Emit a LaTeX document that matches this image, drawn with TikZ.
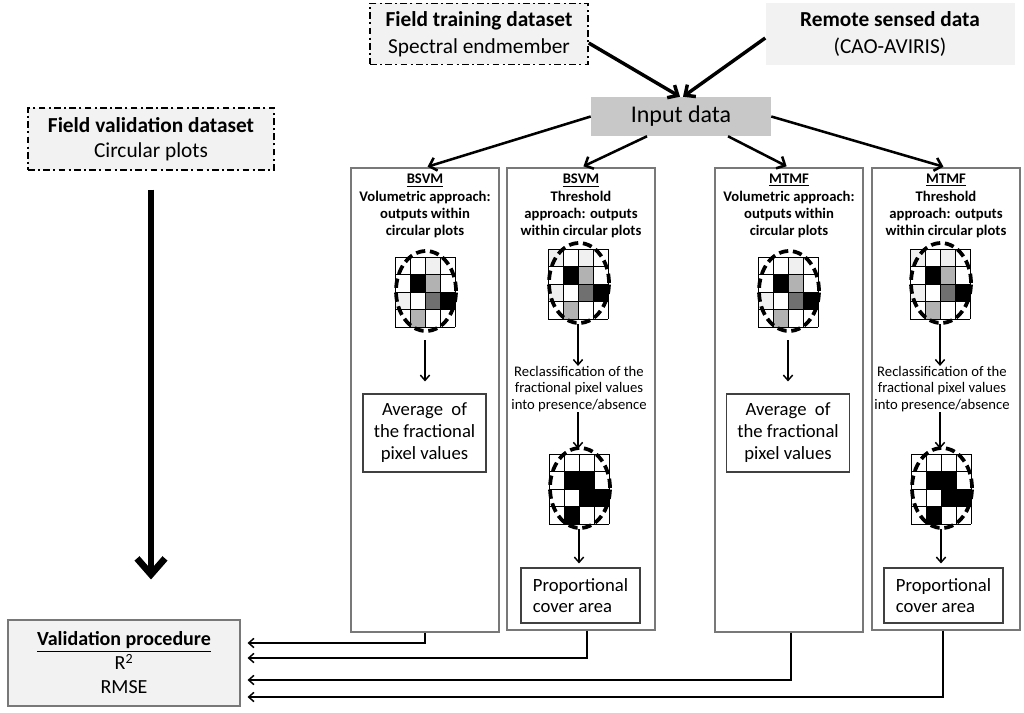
\documentclass[tikz,border=0pt]{standalone}
\usepackage{fontspec}
\setmainfont{Carlito}
\usepackage{tikz}
\usetikzlibrary{calc,arrows.meta}

\definecolor{boxfill}{RGB}{242,242,242}
\definecolor{inputfill}{RGB}{200,200,200}
\definecolor{framegray}{RGB}{120,120,120}
\definecolor{lightcell}{RGB}{240,240,240}
\definecolor{midcell}{RGB}{178,178,178}
\definecolor{darkcell}{RGB}{112,112,112}

\tikzset{
  dashdot box/.style={draw,line width=1.1pt,fill=boxfill,align=center,
    dash pattern=on 5pt off 2.5pt on 1.5pt off 2.5pt,font=\fontsize{16}{20}\selectfont},
  column/.style={draw=framegray,line width=0.8pt,minimum width=111pt,inner sep=0pt},
  resultbox/.style={draw=black!75,line width=0.8pt,inner sep=0pt,font=\fontsize{14}{16.5}\selectfont},
  header/.style={align=center,font=\bfseries\fontsize{11}{13}\selectfont,inner sep=0pt,anchor=north},
  reclass/.style={align=center,font=\fontsize{11}{12.4}\selectfont,inner sep=0pt},
  gridcell/.style={line width=0.6pt},
  plotcircle/.style={line width=2.8pt,dash pattern=on 7pt off 3.5pt},
  fat/.style={line width=2.6pt,-{Straight Barb[length=6pt,width=11pt]}},
  mid/.style={line width=1.9pt,-{Straight Barb[length=5pt,width=10pt]}},
  thin/.style={line width=1.1pt,-{Straight Barb[length=4pt,width=7pt]}},
  bigarrow/.style={line width=5pt,-{Straight Barb[length=12pt,width=21pt]}},
}

% 4x4 pixel grid inside a dashed plot: #1 name, #2 centre, #3 list of cell colours row by row
\newcommand\pixgrid[3]{%
  \node[minimum width=45pt,minimum height=60pt,inner sep=0pt] (#1) at #2 {};
  \foreach \cellcol [count=\i from 0] in #3{%
    \pgfmathtruncatemacro\gx{mod(\i,4)}%
    \pgfmathtruncatemacro\gy{\i/4}%
    \fill[\cellcol] ($(#1)+(-30+15*\gx,-35+17.5*\gy)$) rectangle ++(15,17.5);
  }
  \foreach \k in {0,...,4}{%
    \draw[gridcell] ($(#1)+(-30+15*\k,-35)$) -- ++(0,70);
    \draw[gridcell] ($(#1)+(-30,-35+17.5*\k)$) -- ++(60,0);
  }
  \draw[plotcircle] ($(#1)+(1,-1)$) ellipse [x radius=22.5pt,y radius=30pt];
}
\newcommand\volcells{white,white,lightcell,white,white,black,midcell,white,lightcell,white,darkcell,black,white,midcell,white,white}
\newcommand\thrcells{lightcell,white,lightcell,white,white,black,midcell,white,lightcell,white,darkcell,black,white,midcell,white,white}
\newcommand\bincells{white,white,white,white,white,black,black,white,white,white,black,black,white,black,white,white}

\begin{document}
\begin{tikzpicture}[x=0.75pt,y=-0.75pt]
  \useasboundingbox (0,0) rectangle (1024,713);

  % sources
  \node[dashdot box,minimum width=163.5pt,minimum height=45.75pt] (ftrain) at (479,34)
    {\textbf{Field training dataset}\\Spectral endmember};
  \node[fill=boxfill,align=center,minimum width=186.75pt,minimum height=47pt,
    font=\fontsize{16}{20}\selectfont] (remote) at (890,34)
    {\textbf{Remote sensed data}\\(CAO-AVIRIS)};
  \node[fill=inputfill,minimum width=135pt,minimum height=29.25pt,
    font=\fontsize{18}{20}\selectfont] (input) at (681,116.5) {Input data};
  \node[dashdot box,minimum width=184.5pt,minimum height=46.5pt,
    font=\fontsize{16}{18.75}\selectfont] (fval) at (151,139)
    {\textbf{Field validation dataset}\\Circular plots};
  \node[draw=framegray,line width=0.8pt,fill=boxfill,align=center,minimum width=174pt,
    minimum height=64.5pt,font=\fontsize{15}{18}\selectfont] (valid) at (124,663)
    {\textbf{\underline{Validation procedure}}\\R\textsuperscript{2}\\RMSE};

  % the four columns
  \node[column,minimum height=348pt] (col1) at (425,400) {};
  \node[column,minimum height=346.5pt] (col2) at (581,399) {};
  \node[column,minimum height=348pt] (col3) at (789,400) {};
  \node[column,minimum height=346.5pt] (col4) at (946,399) {};

  \node[header] (head1) at (425,174) {\underline{BSVM}\\Volumetric approach:\\outputs within\\circular plots};
  \node[header] (head2) at (581,174) {\underline{BSVM}\\Threshold\\approach: outputs\\within circular plots};
  \node[header] (head3) at (789,174) {\underline{MTMF}\\Volumetric approach:\\outputs within\\circular plots};
  \node[header] (head4) at (946,174) {\underline{MTMF}\\Threshold\\approach: outputs\\within circular plots};

  \pixgrid{g1}{(425,292)}{\volcells}
  \pixgrid{g2}{(578,284)}{\thrcells}
  \pixgrid{g3}{(788,292)}{\volcells}
  \pixgrid{g4}{(940,284)}{\thrcells}
  \pixgrid{b2}{(579,489)}{\bincells}
  \pixgrid{b4}{(941,489)}{\bincells}

  \node[resultbox,align=center,minimum width=92.25pt,minimum height=58.5pt] (avg1) at (424.5,433)
    {Average~ of\\the fractional\\pixel values};
  \node[resultbox,align=center,minimum width=92.25pt,minimum height=58.5pt] (avg3) at (788,433)
    {Average~ of\\the fractional\\pixel values};
  \node[resultbox,align=left,minimum width=89.25pt,minimum height=41.25pt,
    font=\fontsize{14}{15.75}\selectfont] (prop2) at (580.5,595.5) {Proportional\\cover area};
  \node[resultbox,align=left,minimum width=89.25pt,minimum height=41.25pt,
    font=\fontsize{14}{15.75}\selectfont] (prop4) at (943.5,595.5) {Proportional\\cover area};

  \node[reclass] (rec2) at (579,389) {Reclassification of the\\fractional pixel values\\into presence/absence};
  \node[reclass] (rec4) at (942,389) {Reclassification of the\\fractional pixel values\\into presence/absence};

  % inputs
  \draw[fat] ($(ftrain.east)+(0,9)$) -- ($(input.north)+(-1,0)$);
  \draw[fat] ($(remote.west)+(0,4)$) -- ($(input.north)+(2,0)$);
  \draw[mid,shorten >=2pt] (input.west) -- (col1.north);
  \draw[mid,shorten >=2pt] ($(input.south)+(-34,0)$) -- (col2.north);
  \draw[mid,shorten >=2pt] ($(input.south)+(47,0)$) -- (col3.north);
  \draw[mid,shorten >=2pt] (input.east) -- (col4.north);

  % inside the columns
  \draw[thin,shorten <=6pt,shorten >=9pt] (g1.south) -- (g1.south |- avg1.north);
  \draw[thin,shorten <=6pt,shorten >=9pt] (g3.south) -- (g3.south |- avg3.north);
  \draw[thin] (g2.south) -- (g2.south |- rec2.north);
  \draw[thin] (g4.south) -- (g4.south |- rec4.north);
  \draw[thin] (g2.south |- rec2.south) -- (g2.south |- b2.north);
  \draw[thin] (g4.south |- rec4.south) -- (g4.south |- b4.north);
  \draw[thin,shorten >=3pt] (b2.south) -- (b2.south |- prop2.north);
  \draw[thin,shorten >=3pt] (b4.south) -- (b4.south |- prop4.north);

  % back to validation
  \draw[bigarrow] ($(fval.south)+(0,19)$) -- ($(fval.south |- valid.north)+(0,-40)$);
  \draw[thin] (col1.south) |- ($(valid.east)+(7,-20)$);
  \draw[thin] ([xshift=4.5pt]col2.south) |- ($(valid.east)+(7,-5)$);
  \draw[thin] ([xshift=1.5pt]col3.south) |- ($(valid.east)+(7,17)$);
  \draw[thin] ([xshift=-2.25pt]col4.south) |- ($(valid.east)+(7,34)$);
\end{tikzpicture}
\end{document}
